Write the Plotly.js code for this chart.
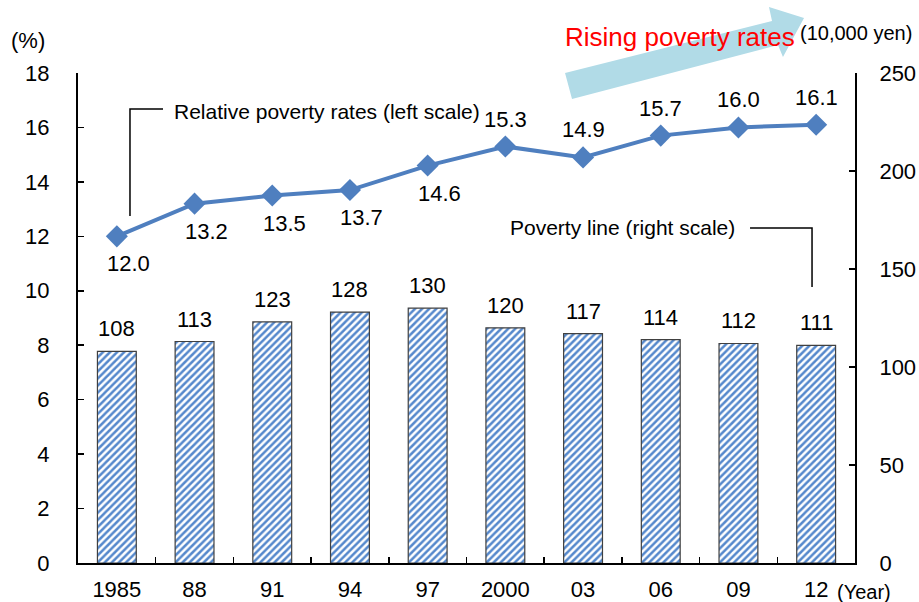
<!DOCTYPE html>
<html>
<head>
<meta charset="utf-8">
<script src="https://cdn.plot.ly/plotly-3.0.1.min.js"></script>
<style>
  body { margin: 0; background: #fff; }
  #chart { width: 919px; height: 602px; }
</style>
</head>
<body>
<div id="chart"></div>
<script>
// data
var years = ['1985', '88', '91', '94', '97', '2000', '03', '06', '09', '12'];
var povertyRate = [12.0, 13.2, 13.5, 13.7, 14.6, 15.3, 14.9, 15.7, 16.0, 16.1];   // %, left scale
var povertyLine = [108, 113, 123, 128, 130, 120, 117, 114, 112, 111];              // 10,000 yen, right scale
var rateLabelBelow = [true, true, true, true, true, false, false, false, false, false];

var FONT = 'Liberation Sans, Arial, sans-serif';
var BLUE = '#4f7fbf';

// plot area in pixels, used to place the callouts and the big arrow
var L = 78, R = 855, T = 73, B = 563;
function px(x) { return (x - L) / (R - L); }
function py(y) { return (B - y) / (B - T); }

var bars = {
    x: years,
    y: povertyLine,
    type: 'bar',
    yaxis: 'y2',
    marker: {
        color: '#ffffff',
        line: { color: '#404040', width: 1.2 },
        pattern: { shape: '/', fgcolor: '#5588cc', bgcolor: '#ffffff', size: 5, solidity: 0.5 }
    },
    hoverinfo: 'skip',
    name: 'Poverty line'
};

var rates = {
    x: years,
    y: povertyRate,
    type: 'scatter',
    mode: 'lines+markers',
    yaxis: 'y',
    line: { color: BLUE, width: 4 },
    marker: { symbol: 'diamond', size: 17, color: BLUE },
    hoverinfo: 'skip',
    name: 'Relative poverty rates'
};

// value labels; on a category axis annotations take the category's serial number
var annotations = [];
years.forEach(function (yr, i) {
    annotations.push({
        x: i, y: povertyLine[i], xref: 'x', yref: 'y2',
        text: String(povertyLine[i]), showarrow: false,
        yanchor: 'bottom', yshift: 8,
        font: { family: FONT, size: 22, color: '#000' }
    });
    var below = rateLabelBelow[i];
    annotations.push({
        x: i, y: povertyRate[i], xref: 'x', yref: 'y',
        text: povertyRate[i].toFixed(1), showarrow: false,
        yanchor: below ? 'top' : 'bottom',
        yshift: below ? -13 : 13, xshift: below ? 12 : 0,
        font: { family: FONT, size: 22, color: '#000' }
    });
});

annotations.push(
    { x: px(172), y: py(112), xref: 'paper', yref: 'paper', xanchor: 'left', yanchor: 'middle',
      text: 'Relative poverty rates (left scale)', showarrow: false,
      font: { family: FONT, size: 21, color: '#000' } },
    { x: px(508), y: py(227), xref: 'paper', yref: 'paper', xanchor: 'left', yanchor: 'middle',
      text: 'Poverty line (right scale)', showarrow: false,
      font: { family: FONT, size: 21, color: '#000' } },
    { x: px(563), y: py(37), xref: 'paper', yref: 'paper', xanchor: 'left', yanchor: 'middle',
      text: 'Rising poverty rates', showarrow: false,
      font: { family: FONT, size: 26, color: '#ff0000' } },
    { x: px(798), y: py(33), xref: 'paper', yref: 'paper', xanchor: 'left', yanchor: 'middle',
      text: '(10,000 yen)', showarrow: false,
      font: { family: FONT, size: 20, color: '#000' } },
    { x: px(9), y: py(40), xref: 'paper', yref: 'paper', xanchor: 'left', yanchor: 'middle',
      text: '(%)', showarrow: false,
      font: { family: FONT, size: 22, color: '#000' } },
    { x: px(835), y: py(592), xref: 'paper', yref: 'paper', xanchor: 'left', yanchor: 'middle',
      text: '(Year)', showarrow: false,
      font: { family: FONT, size: 20, color: '#000' } }
);

// big light-blue arrow, corners in pixels
function polyline(pts) {
    return pts.map(function (p, i) {
        return (i ? 'L' : 'M') + px(p[0]).toFixed(4) + ',' + py(p[1]).toFixed(4);
    }).join(' ');
}
var arrowPts = [[565, 73], [772, 21], [769, 7], [804, 18], [783, 57], [778, 45], [572, 99]];

var shapes = [
    { type: 'path', xref: 'paper', yref: 'paper', path: polyline(arrowPts) + ' Z',
      fillcolor: '#b1dbe7', line: { width: 0 }, layer: 'below' },
    { type: 'path', xref: 'paper', yref: 'paper', path: polyline([[163, 109], [130, 109], [130, 216]]),
      line: { color: '#000', width: 1.5 } },
    { type: 'path', xref: 'paper', yref: 'paper', path: polyline([[750, 228], [812, 228], [812, 287]]),
      line: { color: '#000', width: 1.5 } }
];

var layout = {
    width: 919,
    height: 602,
    margin: { l: L, r: 919 - R, t: T, b: 602 - B },
    paper_bgcolor: '#ffffff',
    plot_bgcolor: '#ffffff',
    showlegend: false,
    bargap: 0.5,
    font: { family: FONT, size: 22, color: '#000' },
    xaxis: {
        type: 'category',
        range: [-0.5, years.length - 0.5],
        showline: true, linecolor: '#000', linewidth: 2,
        ticks: 'inside', tickson: 'boundaries', ticklen: 6, tickcolor: '#000', tickwidth: 1.5,
        ticklabelstandoff: 6,
        showgrid: false, zeroline: false,
        tickfont: { family: FONT, size: 22 }
    },
    yaxis: {
        range: [0, 18], dtick: 2,
        showline: true, linecolor: '#000', linewidth: 2,
        ticks: 'inside', ticklen: 6, tickcolor: '#000', tickwidth: 1.5,
        ticklabelstandoff: 22,
        showgrid: false, zeroline: false,
        tickfont: { family: FONT, size: 22 }
    },
    yaxis2: {
        overlaying: 'y', side: 'right',
        range: [0, 250], dtick: 50,
        showline: true, linecolor: '#000', linewidth: 2,
        ticks: 'inside', ticklen: 6, tickcolor: '#000', tickwidth: 1.5,
        ticklabelstandoff: 18,
        showgrid: false, zeroline: false,
        tickfont: { family: FONT, size: 22 }
    },
    annotations: annotations,
    shapes: shapes
};

Plotly.newPlot('chart', [bars, rates], layout, { displayModeBar: false, staticPlot: true });
</script>
</body>
</html>
